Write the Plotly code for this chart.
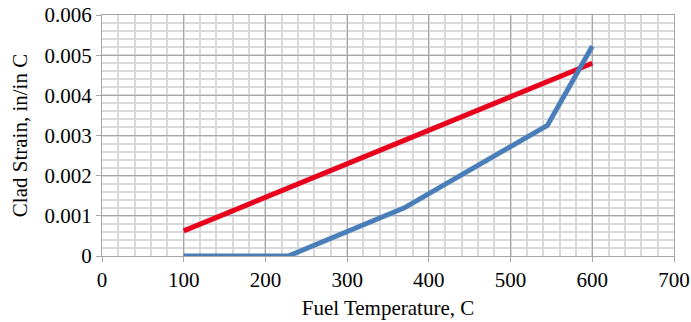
import plotly.graph_objects as go

# Data
blue_temp = [100, 228, 370, 545, 600]
blue_strain = [0.0, 0.0, 0.0012, 0.00325, 0.00522]

red_temp = [100, 600]
red_strain = [0.000625, 0.0048]

x_ticks = [0, 100, 200, 300, 400, 500, 600, 700]
y_ticks = [0, 0.001, 0.002, 0.003, 0.004, 0.005, 0.006]
y_tick_labels = ["0", "0.001", "0.002", "0.003", "0.004", "0.005", "0.006"]

font_family = "Liberation Serif"

fig = go.Figure()
fig.add_trace(go.Scatter(x=red_temp, y=red_strain, mode="lines",
                         line=dict(color="#e8001c", width=5), showlegend=False))
fig.add_trace(go.Scatter(x=blue_temp, y=blue_strain, mode="lines",
                         line=dict(color="#4a7ebb", width=5), showlegend=False))

fig.update_layout(
    width=691, height=322,
    margin=dict(l=102, r=17, t=15, b=66, autoexpand=False),
    paper_bgcolor="white", plot_bgcolor="white",
    font=dict(family=font_family, size=21, color="black"),
    xaxis=dict(
        range=[0, 700], tickvals=x_ticks, ticktext=[str(v) for v in x_ticks],
        showgrid=True, gridcolor="#a6a6a6", gridwidth=1,
        minor=dict(dtick=20, showgrid=True, gridcolor="#d9d9d9", gridwidth=1.5,
                   ticks=""),
        showline=True, linecolor="#a6a6a6", linewidth=1,
        ticks="outside", ticklen=5, tickcolor="#a6a6a6",
        zeroline=False, mirror=True, automargin=False,
        title=dict(text="Fuel Temperature, C", standoff=9,
                   font=dict(family=font_family, size=21)),
        tickfont=dict(family=font_family, size=21, color="black"),
    ),
    yaxis=dict(
        range=[0, 0.006], tickvals=y_ticks, ticktext=y_tick_labels,
        showgrid=True, gridcolor="#a6a6a6", gridwidth=1,
        minor=dict(dtick=0.0002, showgrid=True, gridcolor="#d9d9d9", gridwidth=1.5,
                   ticks=""),
        showline=True, linecolor="#a6a6a6", linewidth=1,
        ticks="outside", ticklen=5, tickcolor="#a6a6a6",
        zeroline=False, mirror=True, automargin=False,
        title=dict(text="Clad Strain, in/in C", standoff=11,
                   font=dict(family=font_family, size=21)),
        tickfont=dict(family=font_family, size=21, color="black"),
    ),
)

# remove the browser's default 8px body margin so the figure fills the window
fig.write_html("out.html",
               config={"displayModeBar": False},
               post_script="document.body.style.margin='0';document.body.style.overflow='hidden';")
